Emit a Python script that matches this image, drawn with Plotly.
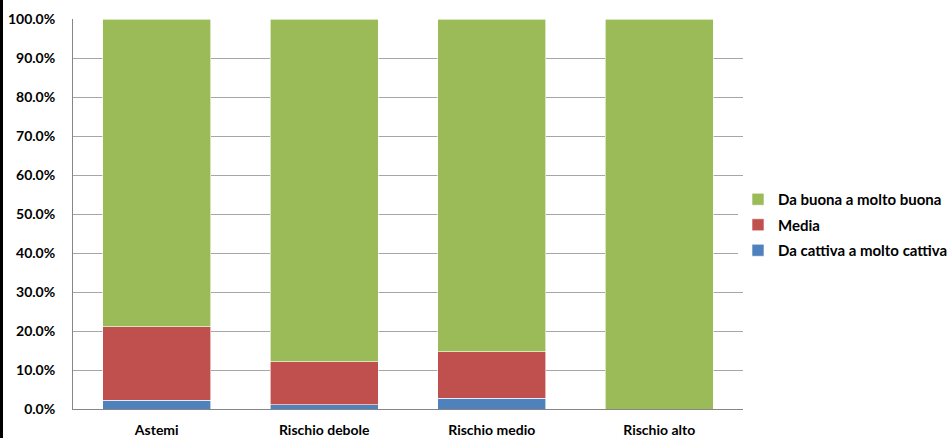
import plotly.graph_objects as go

categories = ["Astemi", "Rischio debole", "Rischio medio", "Rischio alto"]
cattiva = [2.3, 1.1, 2.7, 0.0]
media = [18.8, 11.0, 12.0, 0.0]
buona = [78.9, 87.9, 85.3, 100.0]

series = [
    ("Da cattiva a molto cattiva", cattiva, "#4F81BD"),
    ("Media", media, "#C0504D"),
    ("Da buona a molto buona", buona, "#9BBB59"),
]

fig = go.Figure()
for i, (name, vals, col) in enumerate(series):
    fig.add_trace(go.Bar(
        x=categories, y=vals, name=name, legendgroup=f"g{i}",
        legendrank=1000 - i,
        marker=dict(color=col, line=dict(color="white", width=0.6)),
    ))

W, H = 952, 438
L, R, T, B = 73, 209, 19, 29
pw, ph = W - L - R, H - T - B

tf = dict(family="Lato, sans-serif", size=14, color="black", weight="bold")
fig.update_layout(
    width=W, height=H,
    margin=dict(l=L, r=R, t=T, b=B, autoexpand=False),
    barmode="stack", bargap=0.355,
    paper_bgcolor="white", plot_bgcolor="white",
    font=tf,
    showlegend=True,
    legend=dict(x=(738 - L) / pw, y=(409 - 225) / ph, xanchor="left", yanchor="middle",
                traceorder="grouped",
                font=dict(family="Lato, sans-serif", size=15, color="black", weight="bold"),
                tracegroupgap=3, itemwidth=30),
    xaxis=dict(showgrid=False, showline=True, linecolor="#868686", linewidth=1,
               ticks="", tickfont=tf, automargin=False, ticklabelstandoff=8),
    yaxis=dict(range=[0, 100], dtick=10, tickformat=".1f", ticksuffix="%",
               showgrid=True, gridcolor="#A6A6A6", gridwidth=1,
               showline=True, linecolor="#868686", linewidth=1,
               ticks="", ticklabelstandoff=14, automargin=False,
               tickfont=tf, zeroline=False),
)

fig.add_shape(type="line", xref="paper", yref="paper",
              x0=(1.5 - L) / pw, x1=(1.5 - L) / pw,
              y0=-B / ph, y1=1 + T / ph,
              line=dict(color="black", width=3))

fig.write_html("out.html", config={"displayModeBar": False},
               post_script="document.body.style.margin='0';document.body.style.overflow='hidden';")
